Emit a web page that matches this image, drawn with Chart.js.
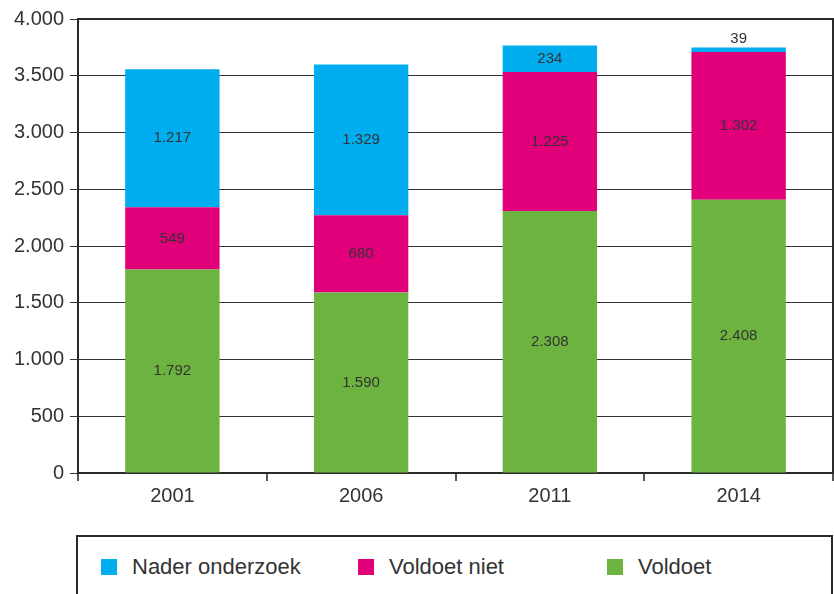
<!DOCTYPE html>
<html>
<head>
<meta charset="utf-8">
<script src="https://cdn.jsdelivr.net/npm/chart.js@4/dist/chart.umd.min.js"></script>
<style>
  html, body { margin: 0; padding: 0; background: #fff; }
  body { width: 834px; height: 594px; position: relative; overflow: hidden; font-family: "Liberation Sans", Arial, sans-serif; }
  #wrap { position: absolute; left: 0; top: 0; width: 834px; height: 510px; }
  #legend { position: absolute; left: 76px; top: 535px; width: 757px; height: 80px; border: 2px solid #2a2a2a; box-sizing: border-box; }
  .item { position: absolute; top: 22px; height: 16px; font-size: 22px; color: #333; white-space: nowrap; }
  .item i { position: absolute; left: 0; top: 0; width: 16px; height: 16px; }
  .item span { position: absolute; left: 31px; top: -5px; line-height: 26px; }
</style>
</head>
<body>
<div id="wrap"><canvas id="c" width="834" height="510"></canvas></div>
<div id="legend"></div>
<script>
const years = ["2001", "2006", "2011", "2014"];
const voldoet = [1792, 1590, 2308, 2408];
const voldoetNiet = [549, 680, 1225, 1302];
const naderOnderzoek = [1217, 1329, 234, 39];
const yTicks = [0, 500, 1000, 1500, 2000, 2500, 3000, 3500, 4000];

const blue = "#00aeef", pink = "#e2007a", green = "#6db33f";

function fmt(v) {
  return v.toLocaleString("de-DE");
}

// legend as html
const legendItems = [
  ["Nader onderzoek", blue, 23],
  ["Voldoet niet", pink, 280],
  ["Voldoet", green, 529]
];
const lg = document.getElementById("legend");
legendItems.forEach(([t, c, x]) => {
  const d = document.createElement("div");
  d.className = "item";
  d.style.left = x + "px";
  d.innerHTML = `<i style="background:${c}"></i><span>${t}</span>`;
  lg.appendChild(d);
});

const valueLabels = {
  id: "valueLabels",
  afterDatasetsDraw(chart) {
    const ctx = chart.ctx;
    ctx.save();
    ctx.font = "15px 'Liberation Sans', Arial, sans-serif";
    ctx.fillStyle = "#333";
    ctx.textAlign = "center";
    ctx.textBaseline = "middle";
    chart.data.datasets.forEach((ds, i) => {
      chart.getDatasetMeta(i).data.forEach((bar, j) => {
        const h = bar.base - bar.y;
        const y = h < 20 ? bar.y - 9 : (bar.y + bar.base) / 2;
        ctx.fillText(fmt(ds.data[j]), bar.x, y);
      });
    });
    ctx.restore();
  }
};

const frame = {
  id: "frame",
  afterDraw(chart) {
    const a = chart.chartArea, ctx = chart.ctx;
    ctx.save();
    ctx.strokeStyle = "#2a2a2a";
    ctx.lineWidth = 2;
    ctx.beginPath();
    ctx.moveTo(a.left, a.top);
    ctx.lineTo(a.right, a.top);
    ctx.lineTo(a.right, a.bottom);
    ctx.stroke();
    ctx.restore();
  }
};

new Chart(document.getElementById("c"), {
  type: "bar",
  data: {
    labels: years,
    datasets: [
      { label: "Voldoet", data: voldoet, backgroundColor: green },
      { label: "Voldoet niet", data: voldoetNiet, backgroundColor: pink },
      { label: "Nader onderzoek", data: naderOnderzoek, backgroundColor: blue }
    ]
  },
  options: {
    responsive: false,
    animation: false,
    layout: { padding: { top: 19, right: 1, left: 0, bottom: 0 } },
    datasets: { bar: { categoryPercentage: 0.5, barPercentage: 1 } },
    plugins: { legend: { display: false }, tooltip: { enabled: false } },
    scales: {
      x: {
        stacked: true,
        afterFit: s => { s.height = 37; },
        grid: { offset: true, drawOnChartArea: false, color: "#555", tickLength: 8, lineWidth: 2 },
        border: { color: "#2a2a2a", width: 2 },
        ticks: { color: "#333", font: { size: 20, family: "'Liberation Sans', Arial, sans-serif" }, padding: 3 }
      },
      y: {
        stacked: true,
        min: 0,
        max: 4000,
        afterFit: s => { s.width = 78; },
        afterBuildTicks: s => { s.ticks = yTicks.map(v => ({ value: v })); },
        grid: { color: "#333", lineWidth: 1, tickLength: 8 },
        border: { color: "#2a2a2a", width: 2 },
        ticks: {
          color: "#333",
          font: { size: 20, family: "'Liberation Sans', Arial, sans-serif" },
          padding: 6,
          callback: v => fmt(v)
        }
      }
    }
  },
  plugins: [valueLabels, frame]
});
</script>
</body>
</html>
